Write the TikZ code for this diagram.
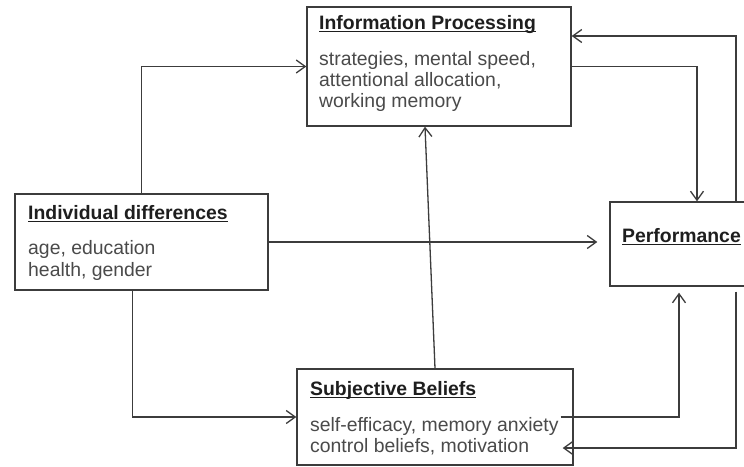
\documentclass[tikz,border=0pt]{standalone}
\usepackage{fontspec}
\setmainfont{Liberation Sans}
\usetikzlibrary{arrows.meta,calc}
\definecolor{linec}{HTML}{3C3C3C}
\definecolor{bodyc}{HTML}{4A4A4A}
\definecolor{titlec}{HTML}{1E1E1E}
\newcommand\myul[1]{\setbox0\hbox{#1}\rlap{\rule[-3pt]{\wd0}{1.5pt}}\box0}
\tikzset{
  box/.style={draw=linec, line width=1.4pt, rectangle, inner sep=0pt},
  ttl/.style={anchor=base west, inner sep=0pt, text=titlec, font=\fontsize{19.4}{21.5}\selectfont\bfseries},
  body/.style={anchor=base west, inner sep=0pt, text=bodyc, font=\fontsize{19.4}{21.5}\selectfont},
  conn/.style={draw=linec, line width=1.3pt, -{Straight Barb[length=9pt,width=13pt,line width=1.3pt]}}
}
\begin{document}
\begin{tikzpicture}[x=1pt,y=-1pt]
\useasboundingbox (0,0) rectangle (744,466);
\fill[white] (0,0) rectangle (744,466);
% boxes
\node[box, minimum width=264pt, minimum height=119pt] (info) at (439,66.5) {};
\node[box, minimum width=253pt, minimum height=96pt] (ind) at (141.5,242) {};
\node[box, minimum width=138pt, minimum height=84pt] (perf) at (679,244) {};
\node[box, minimum width=276pt, minimum height=96pt] (sb) at (435,417) {};
% texts
\node[ttl] (infot) at (319,29) {\myul{Information Processing}};
\node[body] (info1) at (319,65) {strategies, mental speed,};
\node[body] (info2) at (319,86) {attentional allocation,};
\node[body] (info3) at (319,107) {working memory};
\node[ttl] (indt) at (28,219) {\myul{Individual differences}};
\node[body] (ind1) at (28,254) {age, education};
\node[body] (ind2) at (28,276) {health, gender};
\node[ttl] (sbt) at (310,395) {\myul{Subjective Beliefs}};
\node[body] (sb1) at (310,431) {self-efficacy, memory anxiety};
\node[body] (sb2) at (310,452) {control beliefs, motivation};
\node[ttl] (perft) at (622,242) {\myul{Performance}};
% connectors
\draw[conn] (ind.north) |- (info.west);
\draw[conn] ([xshift=-9pt]ind.south) |- (sb.west);
\draw[conn, shorten >=12pt] (ind.east) -- (ind.east -| perf.west);
\draw[conn] (sb.north) -- ([xshift=-14pt]info.south);
\draw[conn] (info.east) -| ([xshift=18pt]perf.north);
\draw[conn] ([xshift=57pt]perf.north) |- ([yshift=30.5pt]info.east);
\draw[conn, shorten >=6pt] ([xshift=-13pt]sb.east) -| (perf.south);
\draw[conn] ([xshift=57pt,yshift=-5pt]perf.south) |- ([xshift=-11pt,yshift=-31pt]sb.east);
\end{tikzpicture}
\end{document}
